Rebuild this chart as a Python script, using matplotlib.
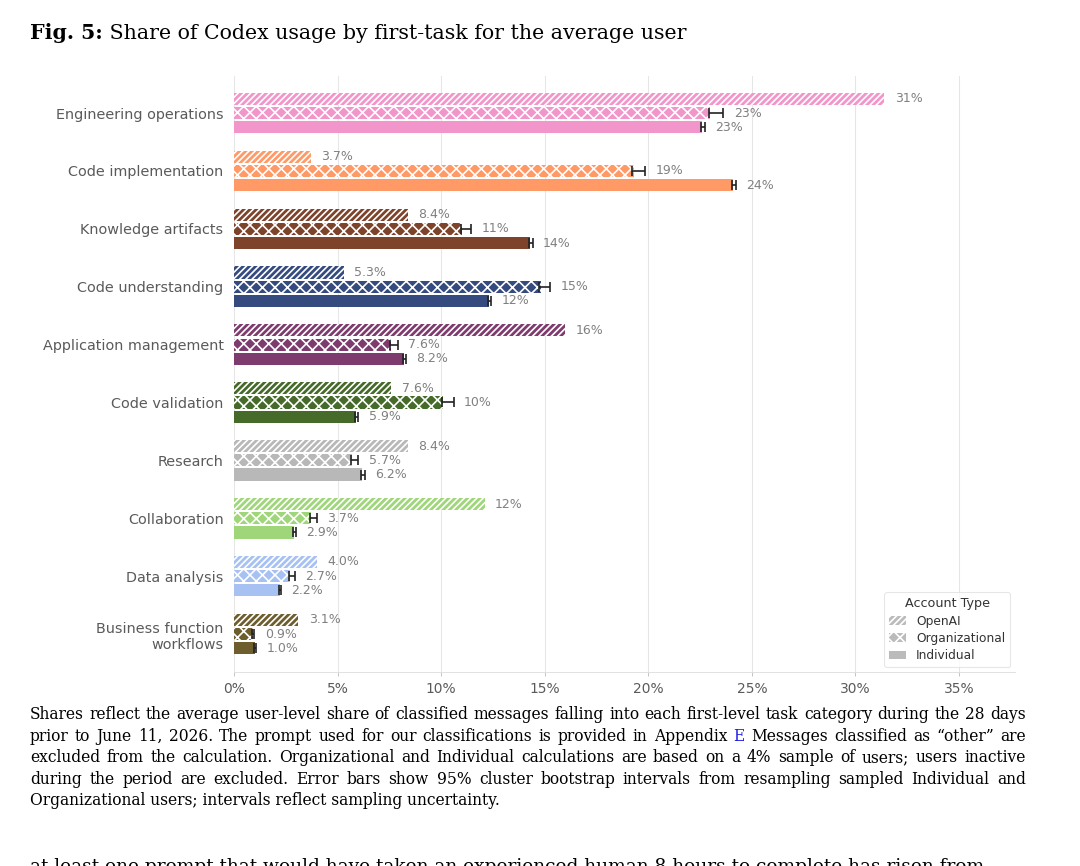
import numpy as np
import matplotlib
matplotlib.use("Agg")
import matplotlib.pyplot as plt
from matplotlib.patches import Patch

# ---------------- data ----------------
categories = ["Engineering operations", "Code implementation", "Knowledge artifacts",
              "Code understanding", "Application management", "Code validation",
              "Research", "Collaboration", "Data analysis",
              "Business function\nworkflows"]
colors = ["#F195CB", "#FF9966", "#7D432B", "#354A7E", "#7E3B6E",
          "#456A2A", "#B8B8B8", "#9FD67A", "#A6C1F2", "#6E5E2E"]

openai = [31.4, 3.7, 8.4, 5.3, 16.0, 7.6, 8.4, 12.1, 4.0, 3.1]
organizational = [23.0, 19.3, 11.0, 14.8, 7.6, 10.1, 5.7, 3.7, 2.7, 0.9]
individual = [22.6, 24.1, 14.3, 12.3, 8.2, 5.9, 6.2, 2.9, 2.2, 1.0]

# 95% bootstrap interval, distance below / above the bar value
org_lo = [0.08, 0.08, 0.06, 0.06, 0.05, 0.08, 0.05, 0.05, 0.04, 0.03]
org_hi = [0.62, 0.55, 0.45, 0.45, 0.30, 0.50, 0.30, 0.30, 0.25, 0.08]
ind_lo = [0.06, 0.06, 0.06, 0.06, 0.05, 0.05, 0.05, 0.05, 0.04, 0.03]
ind_hi = [0.12, 0.12, 0.12, 0.12, 0.10, 0.10, 0.10, 0.10, 0.08, 0.06]

xticks = [0, 5, 10, 15, 20, 25, 30, 35]

title_bold = "Fig. 5:"
title_rest = " Share of Codex usage by first-task for the average user"
caption = [
    "Shares reflect the average user-level share of classified messages falling into each first-level task category during the 28 days",
    "prior to June 11, 2026. The prompt used for our classifications is provided in Appendix E Messages classified as \u201cother\u201d are",
    "excluded from the calculation. Organizational and Individual calculations are based on a 4% sample of users; users inactive",
    "during the period are excluded. Error bars show 95% cluster bootstrap intervals from resampling sampled Individual and",
    "Organizational users; intervals reflect sampling uncertainty.",
]
next_line = "at least one prompt that would have taken an experienced human 8 hours to complete has risen from"

# ---------------- figure ----------------
DPI = 75
W, H = 1080, 866
fig = plt.figure(figsize=(W / DPI, H / DPI), dpi=DPI)
plt.rcParams["hatch.linewidth"] = 1.6

def px(v):
    # pixel size -> points at this dpi
    return v * 72 / DPI

ax = fig.add_axes([234 / W, (H - 672) / H, (1015 - 234) / W, (672 - 76) / H])

y = np.arange(len(categories))
off = 0.245
bh = 0.21
lab_col = "#808080"

for i in range(len(categories)):
    c = colors[i]
    ax.barh(y[i] - off, openai[i], height=bh, color=c, hatch="////",
            edgecolor="white", linewidth=0, zorder=2)
    ax.barh(y[i], organizational[i], height=bh, color=c, hatch="xx",
            edgecolor="white", linewidth=0, zorder=2)
    ax.barh(y[i] + off, individual[i], height=bh, color=c,
            edgecolor="white", linewidth=0, zorder=2)
    ax.errorbar(organizational[i], y[i], xerr=[[org_lo[i]], [org_hi[i]]],
                fmt="none", ecolor="#222222", elinewidth=1.6, capsize=px(5),
                capthick=1.6, zorder=3)
    ax.errorbar(individual[i], y[i] + off, xerr=[[ind_lo[i]], [ind_hi[i]]],
                fmt="none", ecolor="#222222", elinewidth=1.6, capsize=px(5),
                capthick=1.6, zorder=3)

def fmt(v):
    return f"{v:.0f}%" if v >= 10 else f"{v:.1f}%"

gap = 0.5
for i in range(len(categories)):
    ax.text(openai[i] + gap, y[i] - off, fmt(openai[i]), va="center",
            ha="left", color=lab_col, fontsize=px(12.5))
    ax.text(organizational[i] + org_hi[i] + gap, y[i], fmt(organizational[i]),
            va="center", ha="left", color=lab_col, fontsize=px(12.5))
    ax.text(individual[i] + ind_hi[i] + gap, y[i] + off, fmt(individual[i]),
            va="center", ha="left", color=lab_col, fontsize=px(12.5))

ax.set_xlim(0, 37.7)
ax.set_ylim(9.656, -0.64)
ax.set_yticks(y)
ax.set_yticklabels(categories, fontsize=px(14.4), color="#5A5A5A")
ax.set_xticks(xticks)
ax.set_xticklabels([f"{t}%" for t in xticks], fontsize=px(13.7), color="#5A5A5A")
ax.tick_params(axis="y", length=0, pad=10)
ax.tick_params(axis="x", length=4, color="#BBBBBB", pad=6)
ax.grid(axis="x", color="#E6E6E6", linewidth=1, zorder=0)
ax.set_axisbelow(True)
for s in ["top", "right", "left"]:
    ax.spines[s].set_visible(False)
ax.spines["bottom"].set_color("#DDDDDD")

handles = [Patch(facecolor="#BBBBBB", hatch="////", edgecolor="white", linewidth=0, label="OpenAI"),
           Patch(facecolor="#BBBBBB", hatch="xx", edgecolor="white", linewidth=0, label="Organizational"),
           Patch(facecolor="#BBBBBB", edgecolor="white", linewidth=0, label="Individual")]
leg = ax.legend(handles=handles, title="Account Type", loc="lower right",
                fontsize=px(12.3), title_fontsize=px(12.8), frameon=True,
                edgecolor="#E0E0E0", handlelength=1.4, handleheight=0.7,
                borderaxespad=0.4, labelspacing=0.35)
for t in leg.get_texts():
    t.set_color("#333333")
leg.get_title().set_color("#333333")

# ---------------- page text ----------------
serif = "DejaVu Serif"
fig.canvas.draw()
r = fig.canvas.get_renderer()

def fit_size(s, target, **kw):
    # font size (pt) that makes s span target pixels
    t = fig.text(0, 0, s, fontsize=10, family=serif, **kw)
    w = t.get_window_extent(r).width
    t.remove()
    return 10 * target / w

title_fs = fit_size(title_bold + title_rest, 646)
t1 = fig.text(30 / W, (H - 39) / H, title_bold, fontsize=title_fs, family=serif,
              weight="bold", va="baseline", ha="left")
w1 = t1.get_window_extent(r).width
fig.text((30 + w1) / W, (H - 39) / H, title_rest, fontsize=title_fs, family=serif,
         va="baseline", ha="left")

left, right = 30, 1026
cap_fs = fit_size(caption[-1], 473)
body_fs = fit_size(next_line, 955)

def put_line(line, ybase, fs, justify=True):
    yb = (H - ybase) / H
    if not justify:
        fig.text(left / W, yb, line, fontsize=fs, family=serif, va="baseline")
        return
    words = line.split(" ")
    objs = []
    for wd in words:
        col = "#1A1AE6" if (wd == "E" and "Appendix" in line) else "black"
        objs.append(fig.text(0, yb, wd, fontsize=fs, family=serif,
                             va="baseline", color=col))
    widths = [o.get_window_extent(r).width for o in objs]
    space = (right - left - sum(widths)) / (len(words) - 1)
    x = left
    for o, wdt in zip(objs, widths):
        o.set_x(x / W)
        x += wdt + space

base = 719
step = 21.6
for k, line in enumerate(caption):
    put_line(line, base + k * step, cap_fs, justify=(k < len(caption) - 1))
# first line of the following paragraph, cut by the page crop
put_line(next_line, 872, body_fs, justify=False)

fig.savefig("out.png", dpi=DPI)
